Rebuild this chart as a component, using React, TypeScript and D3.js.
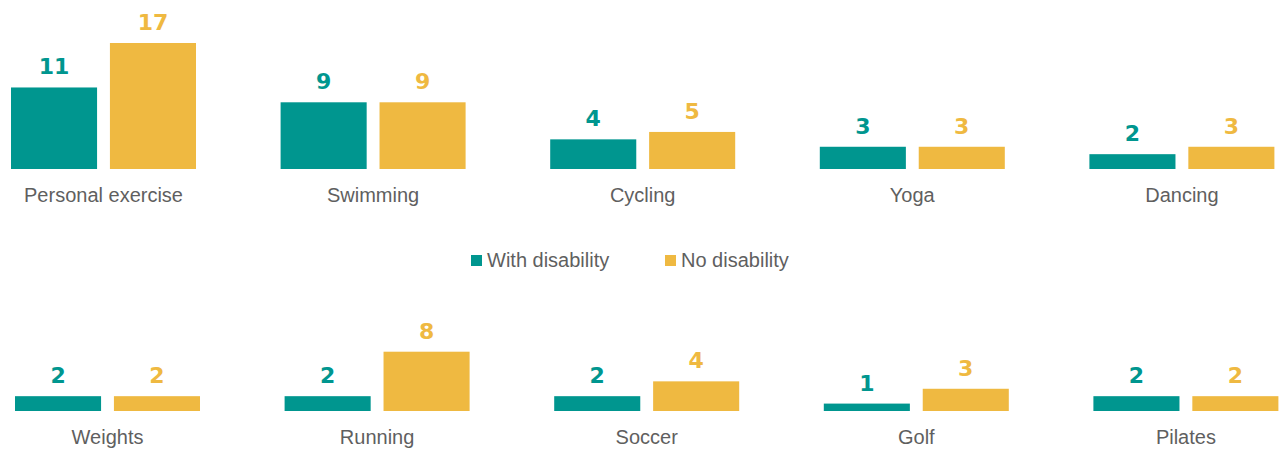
import React from "react";
import * as d3 from "d3";

const topCategories = ["Personal exercise", "Swimming", "Cycling", "Yoga", "Dancing"];
const topWith = [11, 9, 4, 3, 2];
const topNo = [17, 9, 5, 3, 3];

const bottomCategories = ["Weights", "Running", "Soccer", "Golf", "Pilates"];
const bottomWith = [2, 2, 2, 1, 2];
const bottomNo = [2, 8, 4, 3, 2];

const seriesNames = ["With disability", "No disability"];
const colors = ["#00968F", "#EFB941"];
const labelColor = "#5f5f5f";
const font = "'Liberation Sans', Arial, sans-serif";
const valueFont = "'DejaVu Sans', sans-serif";

const W = 1281;
const H = 450;

const yScale = d3.scaleLinear().domain([0, 17]).range([0, 126]);
const inner = d3.scaleBand<string>().domain(seriesNames).range([0, 185]).paddingInner(0.13);

function Row({ categories, withVals, noVals, x0, baseline }: any) {
  const outer = d3.scaleBand<string>().domain(categories).range([x0, x0 + 5 * 269.6]).padding(0);
  return (
    <g>
      {categories.map((c: string, i: number) => {
        const bx = outer(c)!;
        const vals = [withVals[i], noVals[i]];
        return (
          <g key={c}>
            {seriesNames.map((s, j) => {
              const h = yScale(vals[j]);
              const x = bx + inner(s)!;
              return (
                <g key={s}>
                  <rect x={x} y={baseline - h} width={inner.bandwidth()} height={h} fill={colors[j]} />
                  <text
                    x={x + inner.bandwidth() / 2}
                    y={baseline - h - 13}
                    textAnchor="middle"
                    fontFamily={valueFont}
                    fontWeight="bold"
                    fontSize={22}
                    fill={colors[j]}
                  >
                    {vals[j]}
                  </text>
                </g>
              );
            })}
            <text
              x={bx + 185 / 2}
              y={baseline + 32.5}
              textAnchor="middle"
              fontFamily={font}
              fontSize={20}
              fill={labelColor}
            >
              {c}
            </text>
          </g>
        );
      })}
    </g>
  );
}

export default function App() {
  const legendX = [471, 665];
  return (
    <svg
      width={W}
      height={H}
      style={{ position: "absolute", left: 0, top: 0, background: "#ffffff" }}
    >
      <Row categories={topCategories} withVals={topWith} noVals={topNo} x0={11} baseline={169} />
      <Row categories={bottomCategories} withVals={bottomWith} noVals={bottomNo} x0={15} baseline={411} />
      {seriesNames.map((s, j) => (
        <g key={s}>
          <rect x={legendX[j]} y={255} width={11} height={11} fill={colors[j]} />
          <text x={legendX[j] + 16} y={266.5} fontFamily={font} fontSize={20} fill={labelColor}>
            {s}
          </text>
        </g>
      ))}
    </svg>
  );
}
